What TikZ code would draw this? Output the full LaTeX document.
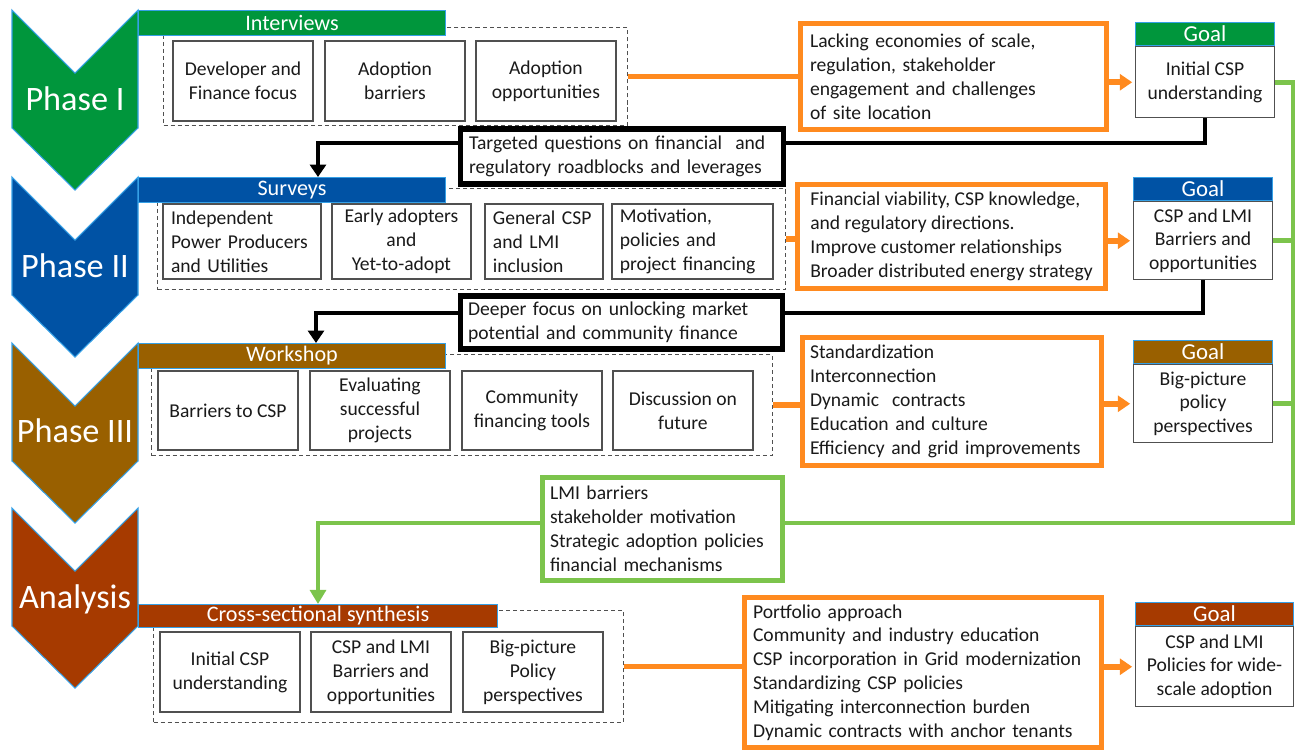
\documentclass[tikz,border=0pt]{standalone}
\usepackage{fontspec}
\setmainfont{Carlito}
\usepackage{tikz}
\usetikzlibrary{arrows.meta,positioning}
\definecolor{PhaseGreen}{HTML}{00963C}
\definecolor{PhaseBlue}{HTML}{0052A4}
\definecolor{PhaseBrown}{HTML}{996000}
\definecolor{PhaseRust}{HTML}{A63A00}
\definecolor{EdgeBlue}{HTML}{35A0E6}
\definecolor{FindOrange}{HTML}{FF8A1F}
\definecolor{LoopGreen}{HTML}{7CC44C}
\definecolor{BoxGray}{HTML}{505050}
\definecolor{InkBlack}{HTML}{1A1A1A}
\newcommand{\boxfont}{\fontsize{11.15pt}{13.6pt}\selectfont}

\begin{document}
\begin{tikzpicture}[
    x=0.02cm, y=-0.02cm,
    chevron/.style={draw=EdgeBlue, line width=0.6pt, line join=miter},
    phaselabel/.style={anchor=base, text=white, inner sep=0pt, font=\fontsize{19.5pt}{22pt}\selectfont},
    banner/.style={rectangle, anchor=north west, draw=EdgeBlue, line width=0.6pt, text=white, minimum width=6.14cm, minimum height=0.5cm, inner sep=0pt, font=\fontsize{12.6pt}{14pt}\selectfont},
    phasegroup/.style={rectangle, anchor=north west, draw=BoxGray, dash pattern=on 2.3pt off 1.7pt, line width=0.6pt, inner sep=0pt},
    itembox/.style={rectangle, draw=BoxGray, line width=0.7pt, fill=white, minimum width=2.8cm, minimum height=1.6cm, align=center, inner sep=0pt, outer sep=0pt, text=InkBlack, font=\boxfont},
    leftitem/.style={itembox, align=left, inner xsep=0.16cm, minimum width=0pt},
    finding/.style={rectangle, draw=FindOrange, line width=2.8pt, fill=white, align=left, inner ysep=0pt, text=InkBlack, font=\boxfont},
    question/.style={rectangle, draw=black, line width=3.2pt, fill=white, align=left, inner ysep=0pt, text=InkBlack, font=\boxfont},
    synth/.style={rectangle, draw=LoopGreen, line width=3pt, fill=white, align=left, inner ysep=0pt, text=InkBlack, font=\boxfont},
    goalhead/.style={rectangle, draw=EdgeBlue, line width=0.6pt, text=white, minimum width=2.78cm, minimum height=0.46cm, inner sep=0pt, font=\fontsize{13pt}{15pt}\selectfont},
    goalbody/.style={rectangle, draw=BoxGray, line width=0.8pt, fill=white, minimum width=2.78cm, align=center, inner sep=0pt, text=InkBlack, font=\boxfont},
    oline/.style={draw=FindOrange, line width=3pt},
    oarrow/.style={draw=FindOrange, line width=3.2pt, -{Triangle[width=9pt,length=7pt]}, shorten >=1.5pt},
    bloop/.style={draw=black, line width=2.8pt, -{Triangle[width=9pt,length=7pt]}},
    gline/.style={draw=LoopGreen, line width=2.6pt},
    gloop/.style={gline, -{Triangle[width=9pt,length=8pt]}}
  ]
    \useasboundingbox (0,0) rectangle (1295,752);

    \draw[chevron, fill=PhaseGreen] (12,10) -- ++(63,63) -- ++(63,-63) -- ++(0,118) -- ++(-63,62) -- ++(-63,-62) -- cycle;
    \node[phaselabel] (pI) at (75,110) {Phase I};
    \node[phasegroup, minimum width=9.28cm, minimum height=1.96cm] (grI) at (163,27) {};
    \node[banner, fill=PhaseGreen] (bI) at (138,10) {Interviews};
    \node[itembox, anchor=north west] (dev) at (173,41) {Developer and\\Finance focus};
    \node[itembox, right=0.24cm of dev] (adbar) {Adoption\\barriers};
    \node[itembox, right=0.22cm of adbar] (adopp) {Adoption\\opportunities};

    \draw[chevron, fill=PhaseBlue] (12,177) -- ++(63,63) -- ++(63,-63) -- ++(0,118) -- ++(-63,62) -- ++(-63,-62) -- cycle;
    \node[phaselabel] (pII) at (75,277) {Phase II};
    \node[phasegroup, minimum width=12.56cm, minimum height=2.02cm] (grII) at (157,188) {};
    \node[banner, fill=PhaseBlue] (bII) at (138,177) {Surveys};
    \node[leftitem, anchor=north west, minimum height=1.5cm, text width=2.84cm] (ipp) at (163,204) {Independent\\Power Producers\\and Utilities};
    \node[itembox, right=0.22cm of ipp, minimum width=2.78cm, minimum height=1.5cm] (early) {Early adopters\\and\\Yet-to-adopt};
    \node[leftitem, right=0.28cm of early, minimum height=1.5cm, text width=2.04cm] (gencsp) {General CSP\\and LMI\\inclusion};
    \node[leftitem, right=0.18cm of gencsp, minimum height=1.5cm, text width=2.9cm] (motiv) {Motivation,\\policies and\\project financing};

    \draw[chevron, fill=PhaseBrown] (12,343) -- ++(63,63) -- ++(63,-63) -- ++(0,118) -- ++(-63,62) -- ++(-63,-62) -- cycle;
    \node[phaselabel] (pIII) at (75,442) {Phase III};
    \node[phasegroup, minimum width=12.42cm, minimum height=2.02cm] (grIII) at (151,354) {};
    \node[banner, fill=PhaseBrown] (bIII) at (138,343) {Workshop};
    \node[itembox, anchor=north west, minimum height=1.58cm] (barcsp) at (158,371) {Barriers to CSP};
    \node[itembox, right=0.24cm of barcsp, minimum height=1.58cm] (evalp) {Evaluating\\successful\\projects};
    \node[itembox, right=0.24cm of evalp, minimum height=1.58cm] (commfin) {Community\\financing tools};
    \node[itembox, right=0.22cm of commfin, minimum height=1.58cm] (discfut) {Discussion on\\future};

    \draw[chevron, fill=PhaseRust] (12,508) -- ++(63,63) -- ++(63,-63) -- ++(0,118) -- ++(-63,62) -- ++(-63,-62) -- cycle;
    \node[phaselabel] (pA) at (75,608) {Analysis};
    \node[phasegroup, minimum width=9.4cm, minimum height=2.24cm] (grA) at (153,610) {};
    \node[banner, fill=PhaseRust, minimum width=7.18cm, minimum height=0.46cm] (bA) at (138,604) {Cross-sectional synthesis};
    \node[itembox, anchor=north west] (initcsp) at (160,632) {Initial CSP\\understanding};
    \node[itembox, right=0.22cm of initcsp] (barlmi) {CSP and LMI\\Barriers and\\opportunities};
    \node[itembox, right=0.24cm of barlmi] (bigpol) {Big-picture\\Policy\\perspectives};

    \node[finding, minimum width=6.12cm, minimum height=2.12cm, inner xsep=0.19cm, text width=5.74cm] (lack) at (953.5,76.5) {Lacking economies of scale,\\regulation, stakeholder\\engagement and challenges\\of site location};
    \node[finding, minimum width=6.16cm, minimum height=2.08cm] (fin) at (951.5,236.5) {Financial viability, CSP knowledge,\\and regulatory directions.\\Improve customer relationships\\Broader distributed energy strategy};
    \node[finding, minimum height=2.56cm, inner xsep=0.15cm, text width=5.68cm] (std) at (952,401.5) {Standardization\\Interconnection\\Dynamic~ contracts\\Education and culture\\Efficiency and grid improvements};
    \node[finding, minimum height=3.0cm, inner xsep=0.17cm, text width=6.8cm] (port) at (923,672.5) {Portfolio approach\\Community and industry education\\CSP incorporation in Grid modernization\\Standardizing CSP policies\\Mitigating interconnection burden\\Dynamic contracts with anchor tenants};

    \node[goalhead, anchor=north west, fill=PhaseGreen] (gIh) at (1135,22) {Goal};
    \node[goalbody, below=0pt of gIh, minimum height=1.42cm] (gIb) {Initial CSP\\understanding};
    \node[goalhead, anchor=north west, fill=PhaseBlue] (gIIh) at (1133,177) {Goal};
    \node[goalbody, below=0pt of gIIh, minimum height=1.56cm] (gIIb) {CSP and LMI\\Barriers and\\opportunities};
    \node[goalhead, anchor=north west, fill=PhaseBrown] (gIIIh) at (1133,340) {Goal};
    \node[goalbody, below=0pt of gIIIh, minimum height=1.56cm] (gIIIb) {Big-picture\\policy\\perspectives};
    \node[goalhead, anchor=north west, fill=PhaseRust, minimum width=3.16cm] (gAh) at (1135,602) {Goal};
    \node[goalbody, below=0pt of gAh, minimum width=3.16cm, minimum height=1.6cm] (gAb) {CSP and LMI\\Policies for wide-\\scale adoption};

    \draw[oline] (grI.east) -- (grI.east -| lack.west);
    \draw[oline] (grII.east) -- (grII.east -| fin.west);
    \draw[oline] (grIII.east) -- (grIII.east -| std.west);
    \draw[oline] (grA.east) -- (grA.east -| port.west);
    \draw[oarrow] (lack.east |- gIb.west) -- (gIb.west);
    \draw[oarrow] (fin.east |- gIIb.west) -- (gIIb.west);
    \draw[oarrow] (std.east |- gIIIb.west) -- (gIIIb.west);
    \draw[oarrow] (port.east |- gAb.west) -- (gAb.west);

    \coordinate (kI) at (318,143);
    \draw[bloop] (gIb.south) |- (kI) -- (kI |- bII.north);
    \node[question, minimum width=6.46cm, minimum height=1.1cm, inner xsep=0.17cm, text width=6.12cm] (targ) at (622,156.5) {Targeted questions on financial~ and\\regulatory roadblocks and leverages};

    \coordinate (kII) at (316,313);
    \draw[bloop] (gIIb.south) |- (kII) -- (kII |- bIII.north);
    \node[question, minimum width=6.44cm, minimum height=1.06cm, inner xsep=0.15cm, text width=6.14cm] (deep) at (621.5,322.5) {Deeper focus on unlocking market\\potential and community finance};

    \coordinate (gR) at (1293,523);
    \coordinate (kA) at (318,523);
    \draw[gloop] (gIb.east) -| (gR) -- (kA) -- (kA |- bA.north);
    \draw[gline] (gIIb.east) -- (gIIb.east -| gR);
    \draw[gline] (gIIIb.east) -- (gIIIb.east -| gR);
    \node[synth, minimum width=4.8cm, minimum height=2.06cm, inner xsep=0.15cm, text width=4.5cm] (lmi) at (662.5,529) {LMI barriers\\stakeholder motivation\\Strategic adoption policies\\financial mechanisms};
  \end{tikzpicture}
\end{document}
